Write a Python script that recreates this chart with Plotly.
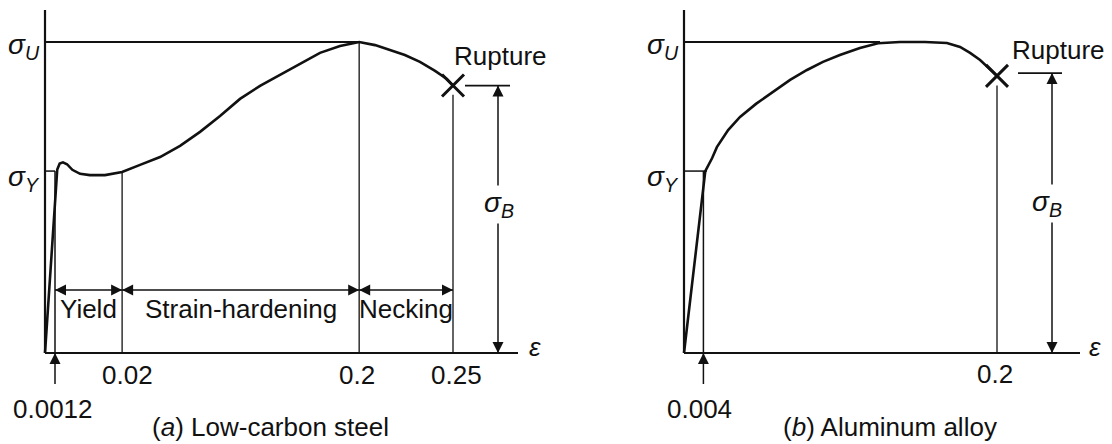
import plotly.graph_objects as go

# ---------------- data (schematic units) ----------------
# strain position: 0 at origin, 100 at the rupture strain of each panel (schematic, not to scale)
# stress: percent of ultimate stress sigma_U
steel_strain = [0, 3.0, 3.6, 4.4, 5.4, 6.7, 8.6, 11.0, 14.7, 18.9, 23.3, 28.2, 33.1,
                38.0, 42.9, 47.8, 52.7, 57.6, 62.5, 67.4, 72.3, 77.0, 80.9, 84.6,
                88.2, 91.9, 95.6, 98.5, 100]
steel_stress = [0, 59.0, 60.9, 61.3, 60.7, 58.9, 57.6, 57.2, 57.2, 58.2, 60.5, 63.0,
                66.6, 71.1, 76.2, 81.7, 85.9, 89.4, 92.9, 96.5, 98.7, 100, 99.0, 97.4,
                95.8, 93.6, 90.7, 88.1, 86.0]
steel_marks = [2.45, 18.9, 77.0, 100]
steel_tick_labels = ["0.0012", "0.02", "0.2", "0.25"]
steel_regions = ["Yield", "Strain-hardening", "Necking"]
steel_sigma_y = 58.5
steel_sigma_u = 100
steel_rupture = 86.0

alu_strain = [0, 6.8, 9.0, 10.5, 14.1, 17.9, 23.0, 28.4, 33.9, 39.3, 44.4, 49.8, 56.2,
              62.0, 69.0, 77.0, 84.0, 88.2, 91.4, 94.6, 96.8, 100]
alu_stress = [0, 58.5, 62.7, 66.2, 71.7, 75.9, 80.1, 83.9, 87.8, 91.0, 93.6, 95.8, 98.1,
              99.6, 100, 100, 99.7, 98.4, 96.5, 94.2, 92.0, 89.1]
alu_marks = [6.2, 100]
alu_tick_labels = ["0.004", "0.2"]
alu_sigma_y = 58.5
alu_sigma_u = 100
alu_rupture = 90.0

captions = ["(<i>a</i>) Low-carbon steel", "(<i>b</i>) Aluminum alloy"]

# ---------------- layout geometry (pixels) ----------------
W, H = 1112, 444
L_X0, L_XS = 45, 4.08      # left panel origin px, px per unit
R_X0, R_XS = 684, 3.13     # right panel origin px, px per unit
Y0, YS = 353, 3.11         # baseline px, px per unit

def yv(py):
    return (Y0 - py) / YS

def lx(px):
    return (px - L_X0) / L_XS

def rx(px):
    return (px - R_X0) / R_XS

INK = "#111111"
FONT = "Liberation Sans, Arial, Helvetica, sans-serif"
FS = 26

fig = go.Figure()
shapes = []
ann = []

def line(xr, yr, x0, y0, x1, y1, w=1.5):
    shapes.append(dict(type="line", xref=xr, yref=yr, x0=x0, y0=y0, x1=x1, y1=y1,
                       line=dict(color=INK, width=w)))

def text(xr, yr, x, y, t, size=FS, xanchor="center", bg=None, italic=False):
    font = dict(family=FONT, size=size, color=INK)
    if italic:
        font["style"] = "italic"
    d = dict(xref=xr, yref=yr, x=x, y=y, text=t, showarrow=False, xanchor=xanchor,
             yanchor="middle", font=font)
    if bg:
        d["bgcolor"] = bg
    ann.append(d)

heads = {"x": ([], [], []), "x2": ([], [], [])}

def head(xr, x, y, sym):
    hx, hy, hs = heads[xr]
    hx.append(x); hy.append(y); hs.append(sym)

def sigma(xr, yr, x, y, sub, xanchor="right", bg=None):
    text(xr, yr, x, y, "σ<sub>%s</sub>" % sub, size=28, xanchor=xanchor, bg=bg, italic=True)

# ---------------- left panel: low-carbon steel ----------------
fig.add_trace(go.Scatter(x=steel_strain, y=steel_stress, mode="lines", xaxis="x", yaxis="y",
                         line=dict(color=INK, width=2.6), hoverinfo="skip", showlegend=False))
fig.add_trace(go.Scatter(x=[steel_marks[-1]], y=[steel_rupture], mode="markers", xaxis="x", yaxis="y",
                         marker=dict(symbol="x-thin", size=22, line=dict(color=INK, width=3)),
                         hoverinfo="skip", showlegend=False))
# axes
line("x", "y", 0, 0, 0, yv(10), 2.2)
line("x", "y", 0, 0, lx(518), 0, 2.2)
# guide lines
line("x", "y", 0, steel_sigma_u, steel_marks[2], steel_sigma_u, 1.8)
line("x", "y", 0, steel_sigma_y, steel_marks[0], steel_sigma_y, 1.5)
line("x", "y", steel_marks[0], steel_sigma_y, steel_marks[0], 0, 1.5)
line("x", "y", steel_marks[1], 58.2, steel_marks[1], 0, 1.3)
line("x", "y", steel_marks[2], steel_sigma_u, steel_marks[2], 0, 1.3)
line("x", "y", steel_marks[3], steel_rupture - 3, steel_marks[3], 0, 1.3)
line("x", "y", lx(465), steel_rupture, lx(510), steel_rupture, 1.8)
# dimension arrows
dim_y = yv(290)
for a, b in zip(steel_marks[:-1], steel_marks[1:]):
    line("x", "y", a, dim_y, b, dim_y, 1.5)
    head("x", a, dim_y, "arrow-left")
    head("x", b, dim_y, "arrow-right")
for name, a, b in zip(steel_regions, steel_marks[:-1], steel_marks[1:]):
    text("x", "y", (a + b) / 2, yv(309), name)
# sigma_B arrow
line("x", "y", lx(498), steel_rupture, lx(498), 0, 1.5)
head("x", lx(498), steel_rupture, "arrow-up")
head("x", lx(498), 0, "arrow-down")
sigma("x", "y", lx(499), yv(204), "B", xanchor="center", bg="white")
# 0.0012 arrow
line("x", "y", steel_marks[0], yv(384), steel_marks[0], 0, 1.5)
head("x", steel_marks[0], 0, "arrow-up")
# tick labels
text("x", "y", lx(53), yv(409), steel_tick_labels[0])
text("x", "y", lx(127), yv(375), steel_tick_labels[1])
text("x", "y", lx(357), yv(375), steel_tick_labels[2])
text("x", "y", lx(456), yv(375), steel_tick_labels[3])
text("x", "y", lx(535), yv(347), "ε", size=26, italic=True)
text("x", "y", lx(500), yv(56), "Rupture")
sigma("x", "y", lx(42), yv(46), "U")
sigma("x", "y", lx(42), yv(178), "Y")
text("x", "y", lx(270), yv(427), captions[0])

# ---------------- right panel: aluminum alloy ----------------
fig.add_trace(go.Scatter(x=alu_strain, y=alu_stress, mode="lines", xaxis="x2", yaxis="y2",
                         line=dict(color=INK, width=2.6), hoverinfo="skip", showlegend=False))
fig.add_trace(go.Scatter(x=[alu_marks[-1]], y=[89.1], mode="markers", xaxis="x2", yaxis="y2",
                         marker=dict(symbol="x-thin", size=22, line=dict(color=INK, width=3)),
                         hoverinfo="skip", showlegend=False))
line("x2", "y2", 0, 0, 0, yv(10), 2.2)
line("x2", "y2", 0, 0, rx(1080), 0, 2.2)
line("x2", "y2", 0, alu_sigma_u, rx(880), alu_sigma_u, 1.8)
line("x2", "y2", 0, alu_sigma_y, rx(707), alu_sigma_y, 1.5)
line("x2", "y2", alu_marks[0], alu_sigma_y, alu_marks[0], 0, 1.5)
line("x2", "y2", alu_marks[1], 86, alu_marks[1], 0, 1.3)
line("x2", "y2", rx(1018), alu_rupture, rx(1062), alu_rupture, 1.8)
line("x2", "y2", rx(1052), alu_rupture, rx(1052), 0, 1.5)
head("x2", rx(1052), alu_rupture, "arrow-up")
head("x2", rx(1052), 0, "arrow-down")
sigma("x2", "y2", rx(1047), yv(203), "B", xanchor="center", bg="white")
line("x2", "y2", alu_marks[0], yv(384), alu_marks[0], 0, 1.5)
head("x2", alu_marks[0], 0, "arrow-up")
text("x2", "y2", rx(699), yv(409), alu_tick_labels[0])
text("x2", "y2", rx(995), yv(374), alu_tick_labels[1])
text("x2", "y2", rx(1095), yv(347), "ε", size=26, italic=True)
text("x2", "y2", rx(1058), yv(50), "Rupture")
sigma("x2", "y2", rx(681), yv(46), "U")
sigma("x2", "y2", rx(681), yv(178), "Y")
text("x2", "y2", rx(890), yv(427), captions[1])

# arrowheads
for xr, yr in (("x", "y"), ("x2", "y2")):
    hx, hy, hs = heads[xr]
    fig.add_trace(go.Scatter(x=hx, y=hy, mode="markers", xaxis=xr, yaxis=yr,
                             marker=dict(symbol=hs, size=11, color=INK, line=dict(width=0)),
                             hoverinfo="skip", showlegend=False))

ax_common = dict(visible=False, showgrid=False, zeroline=False, fixedrange=True)
fig.update_layout(
    width=W, height=H,
    margin=dict(l=0, r=0, t=0, b=0),
    paper_bgcolor="white", plot_bgcolor="white",
    showlegend=False,
    xaxis=dict(domain=[0, 0.5], range=[lx(0), lx(W / 2)], anchor="y", **ax_common),
    yaxis=dict(domain=[0, 1], range=[yv(H), yv(0)], anchor="x", **ax_common),
    xaxis2=dict(domain=[0.5, 1], range=[rx(W / 2), rx(W)], anchor="y2", **ax_common),
    yaxis2=dict(domain=[0, 1], range=[yv(H), yv(0)], anchor="x2", **ax_common),
    shapes=shapes,
    annotations=ann,
)

fig.write_html("out.html", config={"displayModeBar": False},
               post_script="document.body.style.margin='0';document.body.style.overflow='hidden';")
